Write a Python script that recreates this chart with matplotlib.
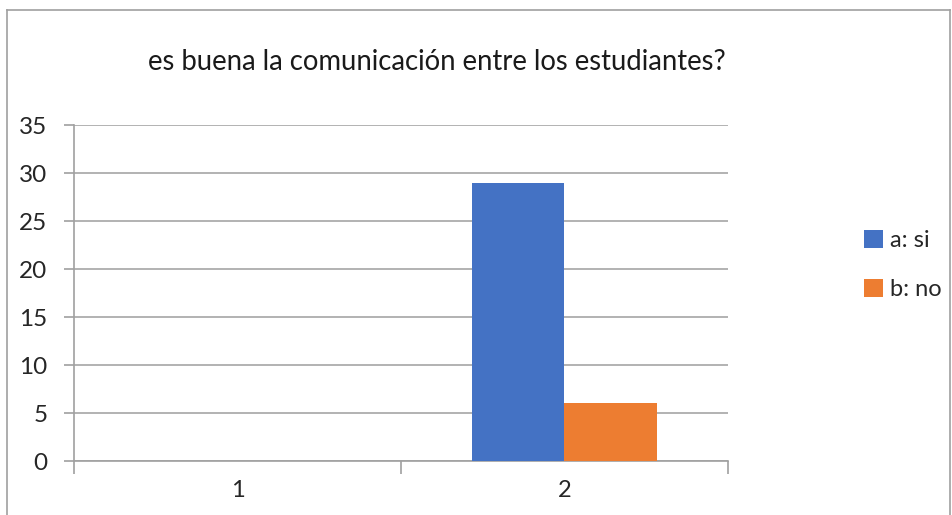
import matplotlib
matplotlib.use('Agg')
import matplotlib.pyplot as plt
from matplotlib.lines import Line2D
import numpy as np

plt.rcParams['font.family'] = ['Lato', 'DejaVu Sans']

title = 'es buena la comunicación entre los estudiantes?'
categories = ['1', '2']
series_names = ['a: si', 'b: no']
si_values = [0, 29]
no_values = [0, 6]
colors = ['#4472c4', '#ed7d31']
yticks = [0, 5, 10, 15, 20, 25, 30, 35]

W, H = 953, 515
fig = plt.figure(figsize=(W / 100, H / 100), dpi=100)

# outer chart border (bottom is cut off in the reference)
fig.add_artist(Line2D([7 / W, 7 / W], [0, 1 - 10 / H], color='#a0a0a0', lw=1.2))
fig.add_artist(Line2D([7 / W, 950 / W], [1 - 10 / H, 1 - 10 / H], color='#a0a0a0', lw=1.2))
fig.add_artist(Line2D([950 / W, 950 / W], [0, 1 - 10 / H], color='#a0a0a0', lw=1.2))

left, right, top, bottom = 74, 728, 125, 461
ax = fig.add_axes([left / W, 1 - bottom / H, (right - left) / W, (bottom - top) / H])

x = np.arange(len(categories))
width = 0.284
ax.bar(x - width / 2, si_values, width, color=colors[0], label=series_names[0], zorder=3)
ax.bar(x + width / 2, no_values, width, color=colors[1], label=series_names[1], zorder=3)

ax.set_xlim(-0.5, len(categories) - 0.5)
ax.set_ylim(0, 35)
ax.set_yticks(yticks)
ax.set_xticks(x)
ax.set_xticklabels(categories)
ax.set_xticks([-0.5, 0.5, 1.5], minor=True)
ax.tick_params(axis='x', which='major', length=0, pad=14, labelsize=17, labelcolor='#262626')
ax.tick_params(axis='x', which='minor', length=9, color='#a0a0a0', width=1.2)
ax.tick_params(axis='y', length=7, color='#a0a0a0', width=1.2, pad=12, labelsize=17.5, labelcolor='#262626')

ax.grid(axis='y', color='#a6a6a6', lw=1.2, zorder=0)
for s in ['top', 'right']:
    ax.spines[s].set_visible(False)
for s in ['left', 'bottom']:
    ax.spines[s].set_color('#a0a0a0')
    ax.spines[s].set_linewidth(1.2)

fig.text(437 / W, 1 - 62 / H, title, ha='center', va='center', fontsize=19.8, color='#1a1a1a')

ax.legend(loc='center left', bbox_to_anchor=(843 / W, 1 - 265 / H), bbox_transform=fig.transFigure,
          frameon=False, fontsize=17, handlelength=0.8, handleheight=0.8, handletextpad=0.3,
          labelspacing=1.15, labelcolor='#262626')

fig.savefig('out.png', dpi=100)
